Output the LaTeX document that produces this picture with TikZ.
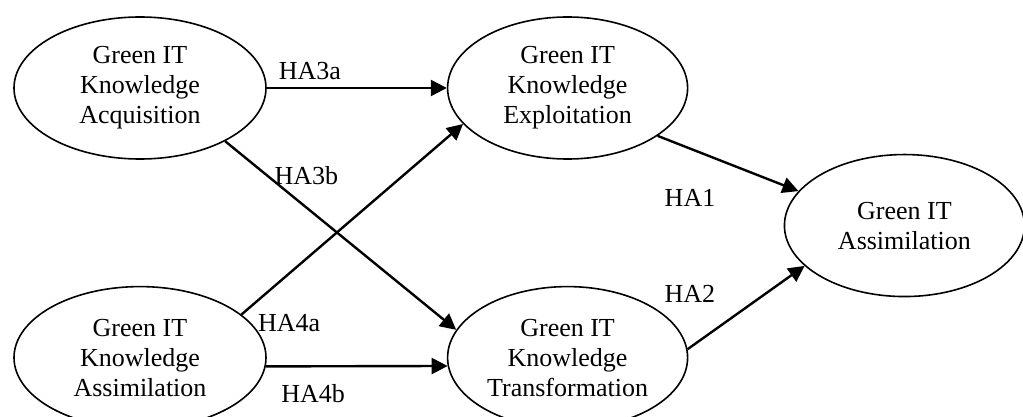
\documentclass[tikz,border=0pt]{standalone}
\usepackage{fontspec}
\setmainfont{Liberation Serif}
\usetikzlibrary{positioning,shapes.geometric,arrows.meta}
\tikzset{auto, >={Triangle[length=8pt,width=8pt]},
  construct/.style={ellipse, draw, line width=0.8pt, minimum width=120pt, minimum height=71pt, inner sep=0pt, align=center},
  hyp/.style={->, line width=1.2pt}}

\begin{document}
\begin{tikzpicture}[font=\fontsize{13pt}{15pt}\selectfont]
\useasboundingbox (-70pt,44pt) rectangle (441.5pt,-164.5pt);
\node (acq) [construct, minimum width=126pt] {Green IT\\Knowledge\\Acquisition};
\node (exp) [construct, right=90pt of acq] {Green IT\\Knowledge\\Exploitation};
\node (asim) [construct, minimum width=126pt, below=63pt of acq] {Green IT\\Knowledge\\Assimilation};
\node (trans) [construct, right=90pt of asim] {Green IT\\Knowledge\\Transformation};
\node (gia) [construct, below right=18pt and 83pt of exp] {Green IT\\Assimilation};
\draw[hyp] (acq) to node[pos=0.24] {HA3a} (exp);
\draw[hyp] (acq.-32) to node[pos=0.18, right] {HA3b} (trans.166);
\draw[hyp] (asim.23) to node[pos=0.04, below right] {HA4a} (exp.199);
\draw[hyp] (asim.-4) to node[pos=0.26, below=5pt] {HA4b} (trans.184);
\draw[hyp] (exp.-28) to node[pos=0.23, below=16.5pt] {HA1} (gia.162);
\draw[hyp] (trans.4) to node[pos=0.02, above=18.5pt] {HA2} (gia.202);
\end{tikzpicture}
\end{document}
